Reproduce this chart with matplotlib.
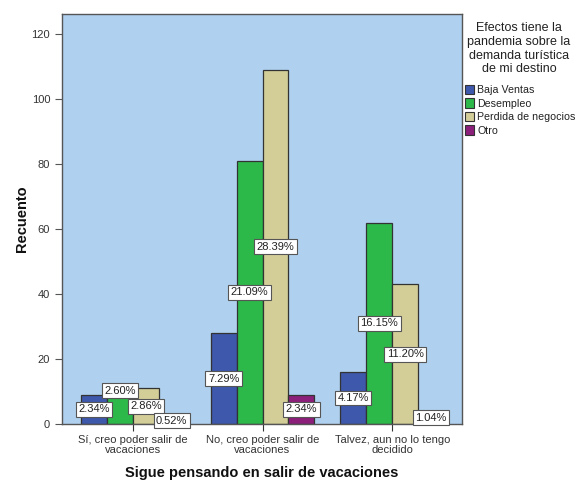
import matplotlib
matplotlib.use("Agg")
import matplotlib.pyplot as plt
import numpy as np
from matplotlib.patches import Patch

plt.rcParams['font.family'] = ['Liberation Sans', 'DejaVu Sans']

categories = ["Sí, creo poder salir de\nvacaciones", "No, creo poder salir de\nvacaciones", "Talvez, aun no lo tengo\ndecidido"]
series_names = ["Baja Ventas", "Desempleo", "Perdida de negocios", "Otro"]
values = {
    "Baja Ventas": [9, 28, 16],
    "Desempleo": [10, 81, 62],
    "Perdida de negocios": [11, 109, 43],
    "Otro": [2, 9, 4],
}
pct_labels = {
    "Baja Ventas": ["2.34%", "7.29%", "4.17%"],
    "Desempleo": ["2.60%", "21.09%", "16.15%"],
    "Perdida de negocios": ["2.86%", "28.39%", "11.20%"],
    "Otro": ["0.52%", "2.34%", "1.04%"],
}
colors = ["#3E58AC", "#2DB84A", "#D3CE98", "#8B1F7A"]

fig = plt.figure(figsize=(5.82, 4.82), dpi=100)
ax = fig.add_axes([62/582, 58/482, 400/582, 410/482])
ax.set_facecolor("#AFD0EE")

x = np.arange(len(categories))
w = 0.2
for i, name in enumerate(series_names):
    xs = x + (i - 1.5) * w
    vals = values[name]
    ax.bar(xs, vals, width=w, color=colors[i], edgecolor="#333333", linewidth=0.9, zorder=2)
    for j, (xx, v) in enumerate(zip(xs, vals)):
        ypos = v / 2
        if name == "Desempleo" and j == 0:
            ypos = 10.2
        ax.text(xx, ypos, pct_labels[name][j], ha="center", va="center", fontsize=8,
                color="#222222", zorder=4,
                bbox=dict(boxstyle="square,pad=0.22", facecolor="white", edgecolor="#555555", linewidth=0.8))

ax.set_xlim(-0.546, 2.538)
ax.set_ylim(0, 126.2)
ax.set_yticks([0, 20, 40, 60, 80, 100, 120])
ax.set_xticks(x)
ax.set_xticklabels(categories, fontsize=8, color="#333333", linespacing=1.0)
ax.tick_params(axis="y", labelsize=8, labelcolor="#333333", direction="out", length=5, width=0.8, color="#555555")
ax.tick_params(axis="x", direction="out", length=5, width=0.8, color="#333333", pad=3)
for s in ax.spines.values():
    s.set_color("#555555")
    s.set_linewidth(1.0)

ax.set_ylabel("Recuento", fontsize=10.5, fontweight="bold", labelpad=2, color="#111111")
ax.set_xlabel("Sigue pensando en salir de vacaciones", fontsize=10.5, fontweight="bold", labelpad=8, color="#111111")

fig.text(519/582, 1 - 22/482, "Efectos tiene la\npandemia sobre la\ndemanda turística\nde mi destino",
         ha="center", va="top", fontsize=9, color="#222222", linespacing=1.2, multialignment="center")

handles = [Patch(facecolor=c, edgecolor="#333333", linewidth=0.8) for c in colors]
leg = fig.legend(handles, series_names, loc="upper left", bbox_to_anchor=(465/582, 1 - 85/482),
                 frameon=False, fontsize=7.7, handlelength=0.85, handleheight=0.95,
                 handletextpad=0.3, labelspacing=0.3, borderaxespad=0, borderpad=0.0)
for t in leg.get_texts():
    t.set_color("#222222")

fig.savefig("out.png", dpi=100)
